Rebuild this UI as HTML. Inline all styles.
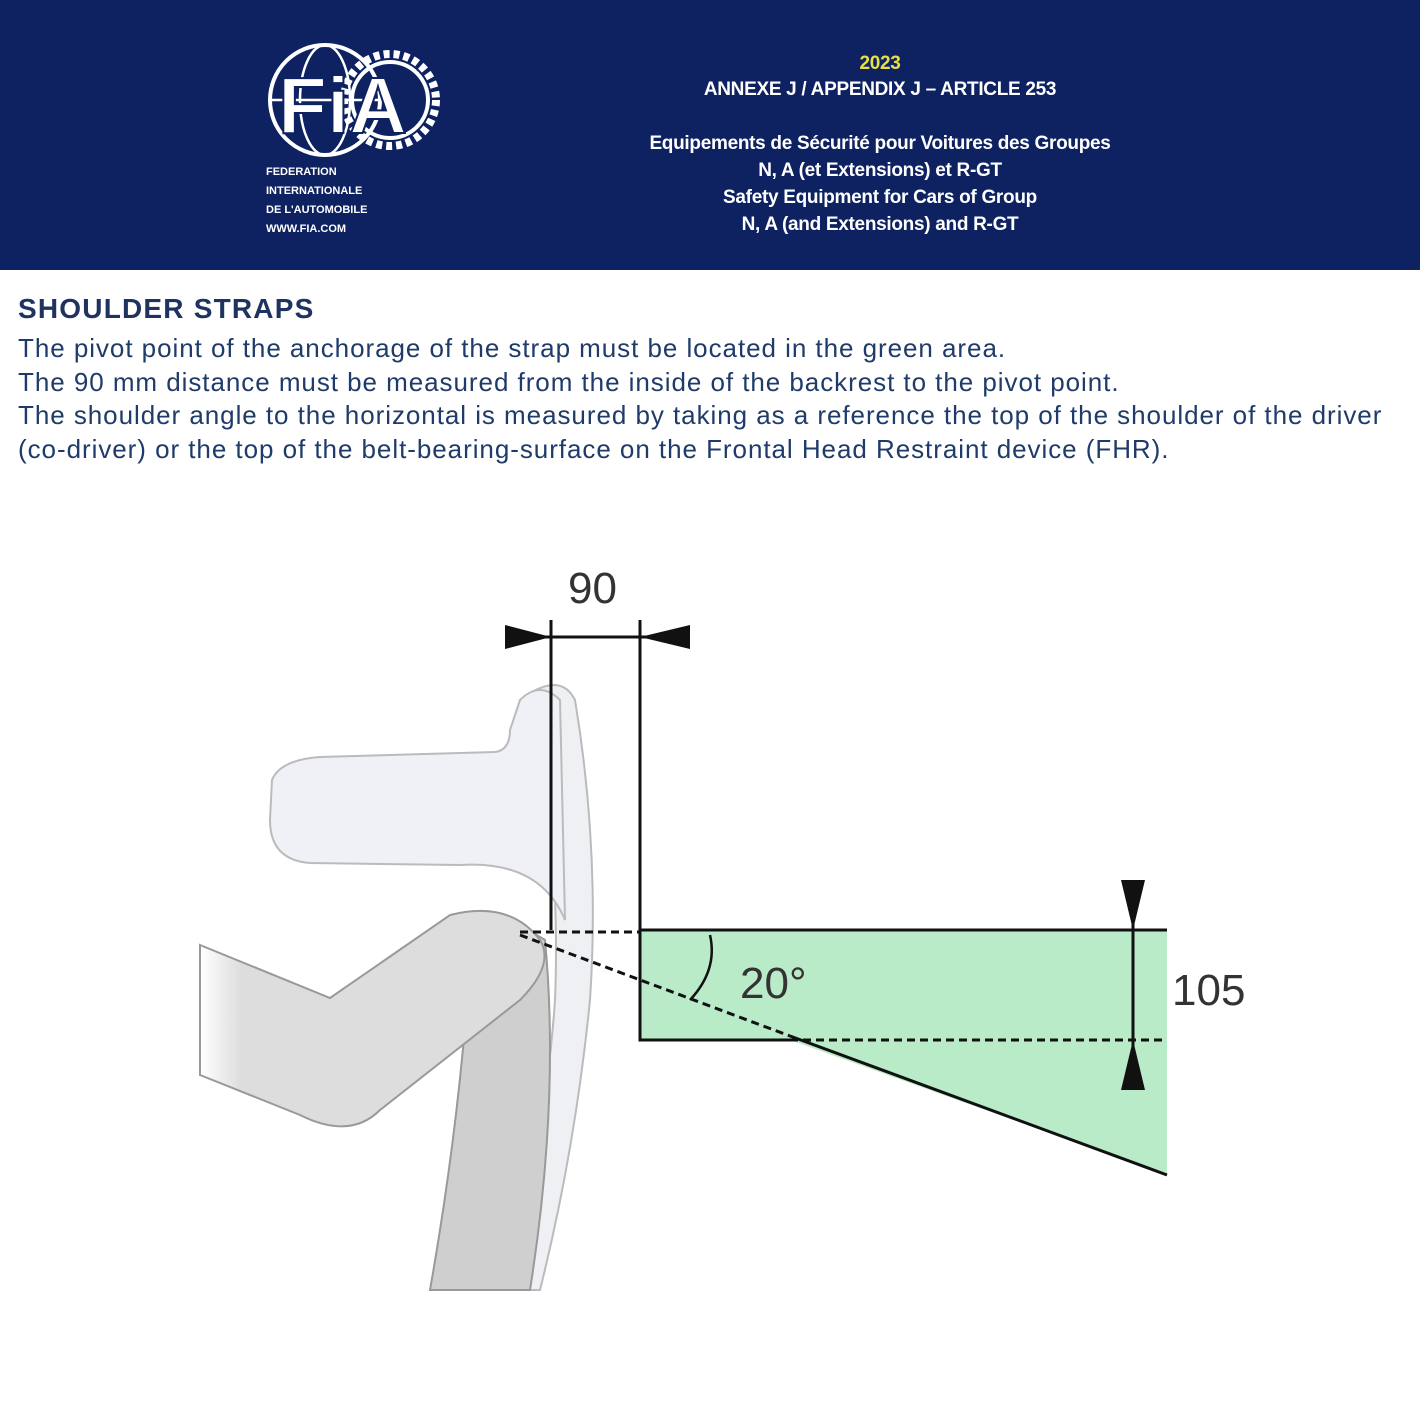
<!DOCTYPE html>
<html><head><meta charset="utf-8"><style>
body{margin:0;width:1420px;height:1420px;background:#fff;position:relative;overflow:hidden;font-family:"Liberation Sans",sans-serif}
.hdr{position:absolute;left:0;top:0;width:1420px;height:270px;background:#0e2262}
.t{position:absolute;color:#fff;font-weight:bold;text-align:center;width:700px;left:530px;font-size:19px;letter-spacing:-0.3px}
.b{position:absolute;left:18px;color:#1f3b6a;font-size:26px;letter-spacing:0.95px;white-space:nowrap}
</style></head><body>
<div class="hdr">
<svg width="1420" height="270" style="position:absolute;left:0;top:0">
<g fill="none" stroke="#fff" stroke-width="4">
<circle cx="390" cy="100" r="46" stroke-dasharray="6 4" stroke-width="8"/>
<circle cx="390" cy="100" r="38"/>
<circle cx="325" cy="100" r="55"/>
<ellipse cx="325" cy="100" rx="25" ry="55" stroke-width="2.5"/>
<line x1="270" y1="100" x2="380" y2="100" stroke-width="2.5"/>
</g>
<text x="278" y="133" fill="#fff" font-family="Liberation Sans" font-weight="bold" font-size="80" stroke="#0e2262" stroke-width="2">FiA</text>
<g fill="#fff" font-family="Liberation Sans" font-weight="bold" font-size="11">
<text x="266" y="175">FEDERATION</text><text x="266" y="194">INTERNATIONALE</text>
<text x="266" y="213">DE L'AUTOMOBILE</text><text x="266" y="232">WWW.FIA.COM</text></g>
</svg>
<div class="t" style="top:53px;color:#e8e040">2023</div>
<div class="t" style="top:79px">ANNEXE J / APPENDIX J – ARTICLE 253</div>
<div class="t" style="top:133px">Equipements de Sécurité pour Voitures des Groupes</div>
<div class="t" style="top:160px">N, A (et Extensions) et R-GT</div>
<div class="t" style="top:187px">Safety Equipment for Cars of Group</div>
<div class="t" style="top:214px">N, A (and Extensions) and R-GT</div>
</div>
<div class="b" style="top:293px;font-weight:bold;font-size:28px;letter-spacing:1.2px;color:#1f3360">SHOULDER STRAPS</div>
<div class="b" style="top:333px">The pivot point of the anchorage of the strap must be located in the green area.</div>
<div class="b" style="top:367px">The 90 mm distance must be measured from the inside of the backrest to the pivot point.</div>
<div class="b" style="top:400px">The shoulder angle to the horizontal is measured by taking as a reference the top of the shoulder of the driver</div>
<div class="b" style="top:434px">(co-driver) or the top of the belt-bearing-surface on the Frontal Head Restraint device (FHR).</div>
<svg width="1420" height="1420" style="position:absolute;left:0;top:0">
<defs><linearGradient id="g" x1="0" x2="1"><stop offset="0" stop-color="#fff"/><stop offset="0.12" stop-color="#ddd"/></linearGradient></defs>
<path d="M520 700 Q560 670 575 700 Q600 850 590 1000 Q575 1150 540 1290 L500 1290 Q545 1150 555 1000 Q560 880 540 720 Z" fill="#eef0f4" stroke="#bbb" stroke-width="2"/>
<path d="M520 700 Q540 680 560 700 L565 920 Q540 860 460 865 L310 863 Q270 860 270 820 L272 780 Q280 760 320 757 L495 752 Q510 750 510 730 Z" fill="#eff1f6" stroke="#bbb" stroke-width="2"/>
<path d="M430 1290 Q460 1120 470 960 Q500 910 545 940 Q560 1100 530 1290 Z" fill="#cfcfcf" stroke="#999" stroke-width="2"/>
<path d="M200 945 L330 998 L450 915 Q510 900 540 940 Q555 965 520 1000 L380 1110 Q350 1140 300 1115 L200 1075 Z" fill="url(#g)" stroke="#999" stroke-width="2"/>
<polygon points="640,930 1167,930 1167,1175 790,1040 640,1040" fill="#b9ebc8"/>
<g stroke="#111" stroke-width="3" fill="none">
<polyline points="790,1040 640,1040 640,620"/>
<line x1="640" y1="930" x2="1167" y2="930"/>
<line x1="790" y1="1036" x2="1167" y2="1175"/>
<line x1="551" y1="620" x2="551" y2="930"/>
<line x1="505" y1="637" x2="690" y2="637"/>
<line x1="1133" y1="880" x2="1133" y2="1090"/>
<g stroke-dasharray="8 5">
<line x1="520" y1="932" x2="640" y2="932"/>
<line x1="520" y1="935" x2="790" y2="1036"/>
<line x1="790" y1="1040" x2="1167" y2="1040"/></g>
<path d="M710 935 Q718 970 690 1000" stroke-width="2.5"/>
</g>
<g fill="#111">
<polygon points="505,625 551,637 505,649"/>
<polygon points="690,625 640,637 690,649"/>
<polygon points="1121,880 1145,880 1133,930"/>
<polygon points="1121,1090 1145,1090 1133,1040"/>
</g>
<g fill="#333" font-family="Liberation Sans" font-size="44">
<text x="568" y="603">90</text><text x="740" y="998">20°</text><text x="1172" y="1005">105</text></g>
</svg>
</body></html>
